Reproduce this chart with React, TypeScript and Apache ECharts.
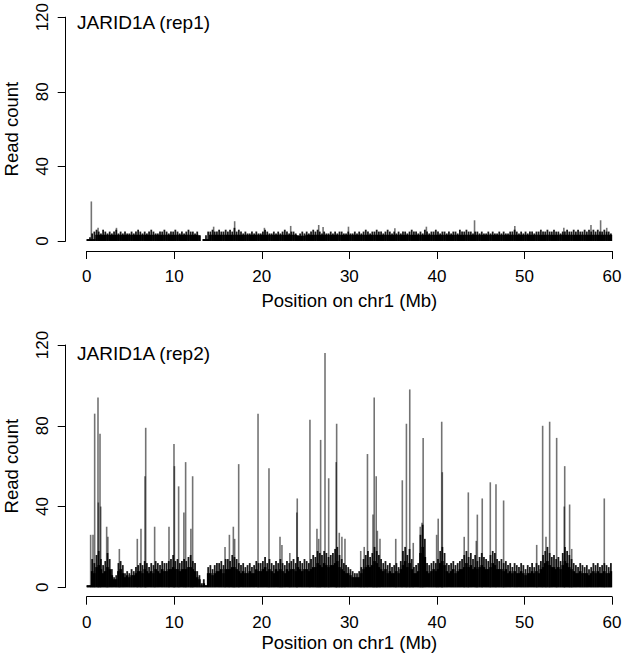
import React, { useEffect, useRef } from "react";
import * as echarts from "echarts";

const FONT = "'Liberation Sans', Arial, Helvetica, sans-serif";
const X_MIN = 0;
const X_MAX = 60;
const X_TICK_STEP = 10;
const Y_MIN = 0;
const Y_MAX = 120;
const Y_TICK_STEP = 40;
const BIN = 0.25; // Mb per background window

const PANEL_TITLES = ["JARID1A (rep1)", "JARID1A (rep2)"];
const X_TITLE = "Position on chr1 (Mb)";
const Y_TITLE = "Read count";

// ---- rep1 ----
// solid black level per Mb
const REP1_CORE = [
  1, 3.3, 3.3, 3.3, 3.3, 3.3, 3.3, 3.3, 3.3, 3.3,
  3.3, 3.3, 3.3, 1, 3.3, 3.3, 3.3, 3.3, 3.3, 3.3,
  3.3, 3.3, 3.3, 3.3, 2.8, 3.3, 3.3, 3.3, 3.3, 3.3,
  3.3, 3.3, 3.3, 3.3, 3.3, 3.3, 3.3, 3.3, 3.3, 3.3,
  3.3, 3.3, 3.3, 3.3, 3.3, 3.3, 3.3, 3.3, 3.3, 3.3,
  3.3, 3.3, 3.3, 3.3, 3.3, 3.3, 3.3, 3.3, 3.3, 3.3,
];
// ragged top per 0.25 Mb window
const REP1_TOP = [
  1, 2, 4, 5, 6, 5, 4, 6, 5, 4, 5, 4, 5, 6, 4, 5, 4, 5, 4, 4,
  5, 4, 5, 6, 5, 4, 5, 4, 5, 6, 5, 4, 4, 5, 5, 6, 5, 4, 5, 5,
  6, 5, 4, 5, 4, 5, 6, 5, 5, 4, 5, 3, 0, 1, 3, 5, 5, 6, 5, 5,
  6, 5, 5, 6, 5, 6, 5, 7, 5, 6, 5, 4, 5, 4, 4, 5, 4, 5, 4, 4,
  5, 6, 5, 4, 4, 5, 4, 5, 4, 5, 6, 5, 4, 5, 5, 4, 3, 4, 5, 4,
  5, 4, 5, 6, 5, 6, 5, 4, 5, 4, 4, 5, 4, 5, 4, 5, 5, 4, 4, 5,
  4, 4, 5, 4, 5, 4, 5, 6, 5, 4, 5, 5, 6, 5, 5, 4, 5, 6, 5, 4,
  5, 4, 5, 4, 5, 5, 4, 5, 6, 5, 5, 4, 5, 4, 6, 5, 4, 5, 5, 6,
  5, 4, 5, 5, 4, 5, 4, 5, 5, 4, 6, 5, 5, 6, 5, 5, 4, 5, 5, 4,
  5, 4, 4, 5, 4, 5, 4, 4, 5, 4, 5, 4, 4, 5, 5, 6, 5, 4, 5, 4,
  5, 4, 5, 5, 4, 5, 5, 6, 5, 5, 6, 5, 5, 6, 5, 5, 4, 5, 5, 6,
  5, 5, 6, 5, 6, 5, 5, 6, 5, 6, 5, 6, 5, 6, 5, 5, 6, 5, 5, 4,
];
// isolated taller reads [Mb, count]
const REP1_SPIKES: [number, number][] = [
  [0.53, 21], [1.3, 7], [3.4, 7], [14.5, 7.6], [16.9, 10.5], [20.3, 7],
  [23.3, 8], [26.5, 8.5], [27.0, 7.5], [29.9, 7.6], [35.2, 6.8], [38.8, 7.6],
  [44.3, 11], [48.9, 8], [54.5, 7], [57.6, 8.5], [58.7, 11], [59.4, 7],
];

// ---- rep2 ----
// solid black level per 0.25 Mb window
const REP2_CORE = [
  1, 1, 8, 7, 10, 11, 9, 7, 8, 10, 9, 6, 4, 4, 8, 9, 7, 5, 6, 5,
  6, 6, 7, 8, 8, 7, 9, 8, 7, 8, 7, 9, 8, 7, 9, 8, 8, 9, 9, 10,
  9, 9, 8, 9, 9, 9, 10, 10, 9, 8, 5, 4, 1, 2, 1, 7, 7, 6, 7, 8,
  8, 9, 7, 9, 9, 9, 10, 10, 9, 8, 7, 8, 7, 7, 8, 7, 7, 9, 8, 8,
  9, 10, 8, 9, 8, 7, 9, 8, 9, 8, 7, 9, 8, 9, 9, 8, 10, 9, 8, 9,
  9, 8, 9, 10, 10, 12, 11, 10, 12, 11, 10, 11, 11, 12, 13, 10, 9, 8, 7, 7,
  6, 5, 5, 5, 5, 7, 9, 10, 11, 10, 11, 13, 12, 10, 9, 8, 9, 7, 8, 7,
  7, 8, 7, 9, 11, 13, 10, 12, 9, 7, 7, 8, 17, 20, 15, 8, 7, 8, 9, 8,
  9, 12, 13, 11, 8, 7, 8, 9, 7, 8, 9, 9, 10, 12, 10, 11, 9, 10, 9, 10,
  11, 10, 9, 9, 10, 12, 11, 9, 9, 9, 8, 9, 7, 8, 7, 8, 7, 7, 8, 7,
  6, 7, 7, 8, 7, 8, 7, 9, 10, 12, 13, 11, 10, 10, 9, 10, 9, 11, 13, 12,
  10, 9, 8, 7, 7, 8, 7, 7, 7, 6, 7, 8, 7, 8, 7, 7, 8, 7, 7, 8,
];
// ragged top per 0.25 Mb window
const REP2_TOP = [
  1, 1, 14, 12, 16, 18, 14, 11, 13, 17, 14, 9, 5, 6, 12, 13, 11, 7, 8, 7,
  9, 8, 10, 11, 12, 11, 13, 12, 10, 12, 11, 13, 12, 11, 13, 12, 12, 13, 14, 16,
  13, 14, 12, 13, 14, 13, 15, 16, 13, 12, 8, 6, 2, 4, 1, 10, 11, 9, 11, 12,
  12, 13, 11, 14, 14, 13, 16, 15, 14, 12, 11, 12, 10, 11, 12, 10, 11, 13, 12, 12,
  13, 15, 12, 14, 12, 11, 13, 12, 14, 12, 11, 13, 12, 13, 14, 12, 15, 13, 12, 14,
  13, 12, 14, 16, 15, 18, 17, 16, 18, 17, 15, 16, 17, 19, 20, 16, 14, 12, 11, 10,
  9, 8, 7, 7, 8, 10, 14, 16, 18, 15, 17, 20, 18, 16, 14, 12, 13, 11, 12, 10,
  11, 12, 10, 13, 18, 20, 16, 19, 14, 10, 11, 12, 26, 31, 24, 12, 11, 12, 13, 12,
  14, 18, 20, 17, 12, 11, 12, 13, 11, 12, 13, 14, 16, 18, 15, 17, 14, 16, 13, 15,
  17, 15, 14, 13, 16, 18, 17, 14, 13, 14, 12, 13, 11, 12, 10, 12, 11, 10, 12, 11,
  9, 11, 10, 12, 10, 12, 11, 13, 16, 18, 20, 17, 15, 16, 14, 15, 13, 17, 20, 18,
  16, 14, 12, 11, 10, 12, 11, 10, 11, 9, 10, 12, 11, 12, 10, 11, 12, 11, 10, 12,
];
const REP2_SPIKES: [number, number][] = [
  [0.45, 26], [0.72, 26], [0.91, 86], [1.29, 94], [1.33, 42], [1.52, 76], [1.6, 40],
  [2.28, 30], [2.42, 25], [3.73, 19], [5.78, 24], [6.2, 29], [6.66, 55], [6.74, 79],
  [7.76, 30], [9.4, 30], [9.97, 71], [10.02, 60], [10.5, 50], [11.1, 37], [11.3, 62],
  [11.9, 29], [12.1, 55], [15.8, 20], [16.3, 26], [16.75, 30], [16.9, 24], [17.36, 61],
  [19.57, 86], [20.82, 59], [22.08, 25], [22.3, 21], [23.2, 17], [24.05, 44], [24.0, 37],
  [25.5, 83], [26.3, 29], [26.5, 24], [26.72, 73], [27.22, 116], [27.64, 54], [28.55, 81],
  [28.5, 62], [28.85, 27], [29.15, 25], [29.5, 24], [31.3, 18], [31.7, 20], [32.07, 66],
  [32.7, 36], [32.84, 94], [33.07, 55], [33.2, 28], [33.5, 24], [35.3, 24], [36.05, 53],
  [36.52, 81], [36.9, 98], [37.3, 22], [38.1, 30], [38.3, 32], [38.43, 74], [39.97, 26],
  [40.15, 34], [40.55, 82], [40.62, 57], [43.12, 25], [43.59, 47], [44.5, 23], [44.62, 36],
  [45.18, 44], [46.1, 52], [46.75, 51], [47.62, 43], [51.4, 21], [52.08, 80], [52.46, 25],
  [52.88, 82], [53.68, 74], [54.55, 40], [54.6, 60], [55.16, 41], [55.4, 19], [59.12, 44],
];

const topData = (top: number[]) => top.map((v, i) => [i * BIN + BIN / 2, v]);
const coreData = (top: number[], core: number[]) =>
  top.map((v, i) => {
    const c = core.length === top.length ? core[i] : core[Math.floor(i * BIN)];
    return [i * BIN + BIN / 2, Math.min(v, c)];
  });

const windowRect = (color: string, shrink: number) => (params: any, api: any) => {
  const x = api.value(0);
  const y = api.value(1);
  const l = api.coord([x - BIN / 2, y]);
  const r = api.coord([x + BIN / 2, y]);
  const base = api.coord([x, 0]);
  const w = Math.max(0.6, r[0] - l[0] - shrink);
  return {
    type: "rect",
    shape: { x: (l[0] + r[0]) / 2 - w / 2, y: l[1], width: w, height: base[1] - l[1] },
    style: { fill: color },
  };
};

const spikeRect = (color: string, width: number) => (params: any, api: any) => {
  const x = api.value(0);
  const y = api.value(1);
  const top = api.coord([x, y]);
  const base = api.coord([x, 0]);
  return {
    type: "rect",
    shape: { x: top[0] - width / 2, y: top[1], width, height: base[1] - top[1] },
    style: { fill: color },
  };
};

// panel pixel geometry: y=0 row, y=120 row; x=0 col, x=60 col
const PANEL_GEOM = [
  { y0: 241, y120: 15, xAxisY: 251 },
  { y0: 587.3, y120: 345, xAxisY: 596.7 },
];
const X0_PX = 86.7;
const X60_PX = 612;
const W = 633;
const H = 654;

export default function App() {
  const ref = useRef<HTMLDivElement>(null);
  useEffect(() => {
    if (!ref.current) return;
    const chart = echarts.init(ref.current, undefined, { renderer: "svg" });
    const pxPerMb = (X60_PX - X0_PX) / (X_MAX - X_MIN);
    const padX = (X_MAX - X_MIN) * 0.04;
    const padY = (Y_MAX - Y_MIN) * 0.04;
    const grids: any[] = [];
    const xAxes: any[] = [];
    const yAxes: any[] = [];
    const series: any[] = [];
    const xNameGaps = [40, 36];
    const hidden = { show: false };
    const panels = [
      { core: REP1_CORE, top: REP1_TOP, spikes: REP1_SPIKES },
      { core: REP2_CORE, top: REP2_TOP, spikes: REP2_SPIKES },
    ];
    PANEL_GEOM.forEach((g, i) => {
      const pxPerUnit = (g.y0 - g.y120) / (Y_MAX - Y_MIN);
      const leftPx = X0_PX - padX * pxPerMb;
      // data grid (R-style padded region)
      const dataTop = g.y120 - padY * pxPerUnit;
      const dataBottom = g.y0 + padY * pxPerUnit;
      grids.push({ left: leftPx, width: (X_MAX - X_MIN + 2 * padX) * pxPerMb, top: dataTop, height: dataBottom - dataTop });
      xAxes.push({ type: "value", gridIndex: grids.length - 1, min: X_MIN - padX, max: X_MAX + padX, show: false });
      yAxes.push({ type: "value", gridIndex: grids.length - 1, min: Y_MIN - padY, max: Y_MAX + padY, show: false });
      const dataGridIndex = grids.length - 1;
      // x axis grid
      grids.push({ left: X0_PX, width: X60_PX - X0_PX, top: g.xAxisY - 1, height: 1 });
      xAxes.push({
        type: "value",
        gridIndex: grids.length - 1,
        min: X_MIN,
        max: X_MAX,
        interval: X_TICK_STEP,
        axisLine: { show: true, lineStyle: { color: "#000", width: 1 } },
        axisTick: { show: true, length: 8, lineStyle: { color: "#000", width: 1 } },
        axisLabel: { color: "#000", fontSize: 17, fontFamily: FONT, margin: 17 },
        splitLine: hidden,
        name: X_TITLE,
        nameLocation: "middle",
        nameGap: xNameGaps[i],
        nameTextStyle: { color: "#000", fontSize: 18.5, fontFamily: FONT },
      });
      yAxes.push({ type: "value", gridIndex: grids.length - 1, show: false });
      // y axis grid
      grids.push({ left: leftPx, width: 10, top: g.y120, height: g.y0 - g.y120 });
      xAxes.push({ type: "value", gridIndex: grids.length - 1, show: false });
      yAxes.push({
        type: "value",
        gridIndex: grids.length - 1,
        min: Y_MIN,
        max: Y_MAX,
        interval: Y_TICK_STEP,
        axisLine: { show: true, lineStyle: { color: "#000", width: 1 } },
        axisTick: { show: true, length: 8, lineStyle: { color: "#000", width: 1 } },
        axisLabel: { color: "#000", fontSize: 17, fontFamily: FONT, margin: 15, rotate: 90 },
        splitLine: hidden,
        name: Y_TITLE,
        nameLocation: "middle",
        nameGap: 45,
        nameTextStyle: { color: "#000", fontSize: 18.5, fontFamily: FONT },
      });
      const p = panels[i];
      const common = { xAxisIndex: dataGridIndex, yAxisIndex: dataGridIndex, encode: { x: 0, y: 1 }, silent: true, clip: false };
      series.push({ type: "custom", ...common, renderItem: windowRect("#1a1a1a", 0.4), data: topData(p.top) });
      series.push({ type: "custom", ...common, renderItem: windowRect("#000", -0.4), data: coreData(p.top, p.core) });
      series.push({ type: "custom", ...common, renderItem: spikeRect("rgba(0,0,0,0.55)", 1.6), data: p.spikes });
    });
    chart.setOption({
      animation: false,
      backgroundColor: "#fff",
      title: [
        { text: PANEL_TITLES[0], left: 77, top: 13, padding: 0, textStyle: { fontSize: 19, fontWeight: "normal", color: "#000", fontFamily: FONT } },
        { text: PANEL_TITLES[1], left: 77, top: 344, padding: 0, textStyle: { fontSize: 19, fontWeight: "normal", color: "#000", fontFamily: FONT } },
      ],
      grid: grids,
      xAxis: xAxes,
      yAxis: yAxes,
      series,
    });
    return () => chart.dispose();
  }, []);
  return <div ref={ref} style={{ position: "fixed", left: 0, top: 0, width: W, height: H }} />;
}
